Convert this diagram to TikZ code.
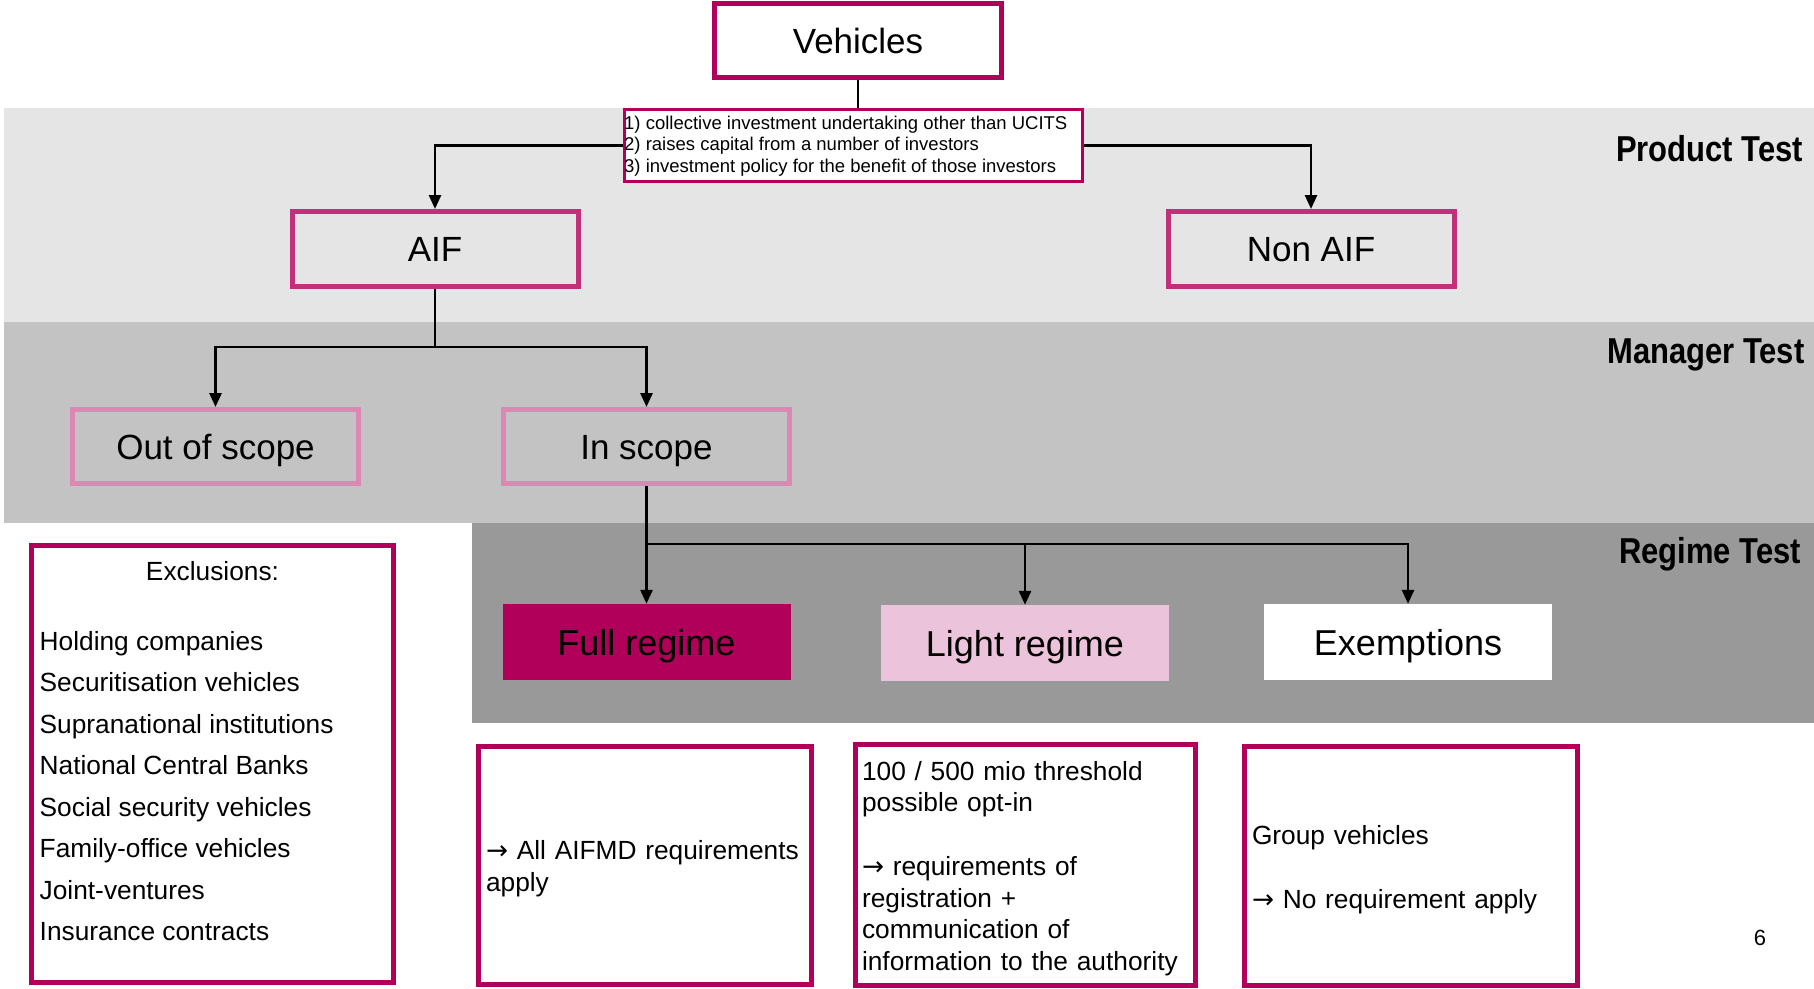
\documentclass[tikz,border=0pt]{standalone}
\usepackage{fontspec}
\setmainfont{Liberation Sans}
\newfontfamily\bandfont{Liberation Sans}[FakeStretch=0.86]
\newfontfamily\arrowfont{DejaVu Sans}
\newcommand{\rarrow}{{\arrowfont →}}
\usetikzlibrary{arrows.meta}
\definecolor{magdark}{HTML}{B0005A}
\definecolor{magmid}{HTML}{C2307A}
\definecolor{magpale}{HTML}{DC88B2}
\definecolor{lightfill}{HTML}{EBC3DA}
\definecolor{bandA}{HTML}{E5E5E5}
\definecolor{bandB}{HTML}{C3C3C3}
\definecolor{bandC}{HTML}{999999}
\begin{document}
\begin{tikzpicture}[x=1pt,y=-1pt,
  conn/.style={line width=2.7pt, draw=black},
  arr/.style={conn, -{Triangle[length=14pt,width=12pt]}},
  lbl/.style={inner sep=0pt, text height=25pt, text depth=0pt, font=\fontsize{35}{42}\selectfont},
  framebox/.style={lbl, draw, line width=5pt, minimum width=286pt, minimum height=75pt},
  regbox/.style={inner sep=0pt, text height=26pt, text depth=0pt, font=\fontsize{36}{42}\selectfont, minimum width=288pt, minimum height=76pt},
  bodytext/.style={inner sep=0pt, font=\fontsize{26.3}{31.7}\selectfont},
  descbox/.style={draw=magdark, line width=5pt, fill=white, inner sep=0pt},
  desctext/.style={align=left, inner sep=0pt, yshift=-3.5pt, font=\fontsize{26.3}{31.7}\selectfont},
  crittext/.style={anchor=base west, inner sep=0pt, font=\fontsize{18.5}{22}\selectfont},
  bandlabel/.style={anchor=base west, inner sep=0pt, font=\bandfont\bfseries\fontsize{36}{40}\selectfont}
]
\useasboundingbox (0,0) rectangle (1814,988);

% test bands
\fill[bandA] (4,108) rectangle (1814,322);
\fill[bandB] (4,322) rectangle (1814,523);
\fill[bandC] (472,523) rectangle (1814,723);

\node[bandlabel] (ptest) at (1616,161.7) {Product Test};
\node[bandlabel] (mtest) at (1607,363) {Manager Test};
\node[bandlabel] (rtest) at (1619,563) {Regime Test};

% top of the tree
\node[framebox, draw=magdark, fill=white, minimum width=287pt, minimum height=74pt] (veh) at (858,40.5) {Vehicles};
\node[draw=magdark, line width=2.7pt, fill=white, minimum width=458pt, minimum height=72pt, inner sep=0pt] (crit) at (853.5,145.5) {};
\foreach \t [count=\i from 0] in {1) collective investment undertaking other than UCITS,
  2) raises capital from a number of investors,
  3) investment policy for the benefit of those investors}
  \node[crittext] (crit-\i) at (624,129.3+21.4*\i) {\t};

% product test outcomes
\node[framebox, draw=magmid] (aif) at (435,249) {AIF};
\node[framebox, draw=magmid] (nonaif) at (1311,249) {Non AIF};

% manager test outcomes
\node[framebox, draw=magpale, minimum height=74pt] (out) at (215.5,446.5) {Out of scope};
\node[framebox, draw=magpale, minimum height=74pt] (in) at (646.5,446.5) {In scope};

% regime test outcomes
\node[regbox, fill=magdark] (full) at (646.5,642) {Full regime};
\node[regbox, fill=lightfill] (light) at (1025,643) {Light regime};
\node[regbox, fill=white] (exempt) at (1408,642) {Exemptions};

% descriptions
\node[descbox, minimum width=333.5pt, minimum height=238pt] (fulld) at (644.75,865.5) {};
\node[desctext, text width=317.5pt] (fulld-t) at (fulld.center)
  {\rarrow\ All AIFMD requirements\\apply};
\node[descbox, minimum width=340.5pt, minimum height=241pt] (lightd) at (1025.25,865) {};
\node[desctext, text width=326.5pt] (lightd-t) at (lightd.center)
  {100 / 500 mio threshold\\possible opt-in\\[31.7pt]\rarrow\ requirements of\\registration +\\communication of\\information to the authority};
\node[descbox, minimum width=333pt, minimum height=239pt] (exd) at (1411,866) {};
\node[desctext, text width=318pt] (exd-t) at (exd.center)
  {Group vehicles\\[31.7pt]\rarrow\ No requirement apply};

% exclusions list
\node[descbox, minimum width=362pt, minimum height=437pt] (excl) at (212.5,764) {};
\node[bodytext, anchor=base] (exclhead) at (212.5,580.7) {Exclusions:};
\foreach \t [count=\i from 0] in {Holding companies, Securitisation vehicles, Supranational institutions,
  National Central Banks, Social security vehicles, Family-office vehicles, Joint-ventures, Insurance contracts}
  \node[bodytext, anchor=base west] (exitem-\i) at (39.5,650+41.5*\i) {\t};

\node[inner sep=0pt, font=\fontsize{22}{26}\selectfont] (pagenum) at (1760,938) {6};

% connectors
\draw[conn] (veh.south) -- (veh.south |- crit.north);
\draw[arr] (crit.west) -| (aif.north);
\draw[arr] (crit.east) -| (nonaif.north);
\coordinate (forkA) at (435,347);
\draw[conn] (aif.south) -- (forkA);
\draw[arr] (forkA) -| (out.north);
\draw[arr] (forkA) -| (in.north);
\coordinate (forkB) at (646.5,544);
\draw[conn] (in.south) -- (forkB);
\draw[arr] (forkB) -- (full.north);
\draw[arr] (forkB) -| (light.north);
\draw[arr] (forkB) -| (exempt.north);
\end{tikzpicture}
\end{document}
